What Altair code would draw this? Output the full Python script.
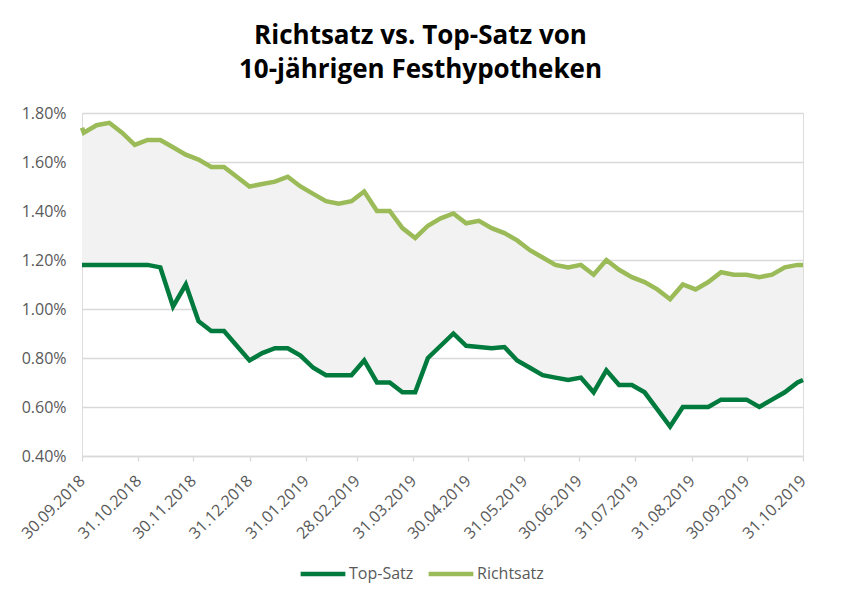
import altair as alt
import pandas as pd

# ---- data ----
dates = [
    "2018-09-30", "2018-10-01", "2018-10-08", "2018-10-15", "2018-10-22", "2018-10-29",
    "2018-11-05", "2018-11-12", "2018-11-19", "2018-11-26", "2018-12-03", "2018-12-10",
    "2018-12-17", "2018-12-24", "2018-12-31", "2019-01-07", "2019-01-14", "2019-01-21",
    "2019-01-28", "2019-02-04", "2019-02-11", "2019-02-18", "2019-02-25", "2019-03-04",
    "2019-03-11", "2019-03-18", "2019-03-25", "2019-04-01", "2019-04-08", "2019-04-15",
    "2019-04-22", "2019-04-29", "2019-05-06", "2019-05-13", "2019-05-20", "2019-05-27",
    "2019-06-03", "2019-06-10", "2019-06-17", "2019-06-24", "2019-07-01", "2019-07-08",
    "2019-07-15", "2019-07-22", "2019-07-29", "2019-08-05", "2019-08-12", "2019-08-19",
    "2019-08-26", "2019-09-02", "2019-09-09", "2019-09-16", "2019-09-23", "2019-09-30",
    "2019-10-07", "2019-10-14", "2019-10-21", "2019-10-28", "2019-10-31",
]
top_satz = [
    1.18, 1.18, 1.18, 1.18, 1.18, 1.18,
    1.18, 1.17, 1.01, 1.10, 0.95, 0.91,
    0.91, 0.85, 0.79, 0.82, 0.84, 0.84,
    0.81, 0.76, 0.73, 0.73, 0.73, 0.79,
    0.70, 0.70, 0.66, 0.66, 0.80, 0.85,
    0.90, 0.85, 0.845, 0.84, 0.845, 0.79,
    0.76, 0.73, 0.72, 0.71, 0.72, 0.66,
    0.75, 0.69, 0.69, 0.66, 0.59, 0.52,
    0.60, 0.60, 0.60, 0.63, 0.63, 0.63,
    0.60, 0.63, 0.66, 0.70, 0.71,
]
richtsatz = [
    1.74, 1.72, 1.75, 1.76, 1.72, 1.67,
    1.69, 1.69, 1.66, 1.63, 1.61, 1.58,
    1.58, 1.54, 1.50, 1.51, 1.52, 1.54,
    1.50, 1.47, 1.44, 1.43, 1.44, 1.48,
    1.40, 1.40, 1.33, 1.29, 1.34, 1.37,
    1.39, 1.35, 1.36, 1.33, 1.31, 1.28,
    1.24, 1.21, 1.18, 1.17, 1.18, 1.14,
    1.20, 1.16, 1.13, 1.11, 1.08, 1.04,
    1.10, 1.08, 1.11, 1.15, 1.14, 1.14,
    1.13, 1.14, 1.17, 1.18, 1.18,
]
series_names = ["Top-Satz", "Richtsatz"]
series_colors = ["#007A3D", "#9BBB59"]
tick_dates = [
    (2018, 9, 30), (2018, 10, 31), (2018, 11, 30), (2018, 12, 31), (2019, 1, 31),
    (2019, 2, 28), (2019, 3, 31), (2019, 4, 30), (2019, 5, 31), (2019, 6, 30),
    (2019, 7, 31), (2019, 8, 31), (2019, 9, 30), (2019, 10, 31),
]
y_ticks = [0.4, 0.6, 0.8, 1.0, 1.2, 1.4, 1.6, 1.8]
title_lines = ["Richtsatz vs. Top-Satz von", "10-jährigen Festhypotheken"]

# ---- tables ----
iso = [d + "T00:00:00" for d in dates]
wide = pd.DataFrame({"Datum": iso, "Top": top_satz, "Richt": richtsatz})
long = pd.DataFrame({
    "Datum": iso + iso,
    "Serie": [series_names[0]] * len(iso) + [series_names[1]] * len(iso),
    "Wert": top_satz + richtsatz,
})

FONT = "Open Sans"
LABEL_COLOR = "#595959"
GRID = "#D9D9D9"

x_scale = alt.Scale(domain=[alt.DateTime(year=2018, month=9, date=30),
                            alt.DateTime(year=2019, month=10, date=31)])
y_scale = alt.Scale(domain=[0.4, 1.8], nice=False, zero=False)

x_axis = alt.Axis(
    values=[alt.DateTime(year=y, month=m, date=d) for (y, m, d) in tick_dates],
    format="%d.%m.%Y", labelAngle=-45, labelAlign="right", labelBaseline="middle",
    tickSize=5, tickColor=GRID, tickWidth=1.3, domainColor=GRID, domainWidth=1.3,
    grid=False, labelPadding=17, labelFont=FONT, labelFontSize=16,
    labelColor=LABEL_COLOR, title=None, labelOverlap=False, labelFlush=False,
)
y_axis = alt.Axis(
    values=y_ticks, labelExpr="format(datum.value, '.2f') + '%'",
    domain=False, ticks=False, gridColor=GRID, gridWidth=1.3,
    labelPadding=16, labelFont=FONT, labelFontSize=16, labelColor=LABEL_COLOR,
    title=None,
)

area = alt.Chart(wide).mark_area(color="#F2F2F2").encode(
    x=alt.X("Datum:T", scale=x_scale, axis=x_axis),
    y=alt.Y("Richt:Q", scale=y_scale, axis=y_axis),
    y2="Top:Q",
)

lines = alt.Chart(long).mark_line(strokeWidth=4.5).encode(
    x=alt.X("Datum:T", scale=x_scale),
    y=alt.Y("Wert:Q", scale=y_scale),
    color=alt.Color(
        "Serie:N",
        scale=alt.Scale(domain=series_names, range=series_colors),
        sort=series_names,
        legend=alt.Legend(
            title=None, orient="none", legendX=216, legendY=436,
            direction="horizontal", symbolType="stroke", symbolSize=2000,
            symbolStrokeWidth=4.5, labelFont=FONT, labelFontSize=16,
            labelColor=LABEL_COLOR, columnPadding=5, labelOffset=1,
        ),
    ),
)

chart = alt.layer(area, lines).properties(
    width=721,
    height=343,
    autosize=alt.AutoSizeParams(type="none"),
    padding={"left": 74, "top": 105, "right": 31, "bottom": 142},
    title=alt.TitleParams(
        text=title_lines, font="Open Sans", fontSize=26, fontWeight="bold",
        color="#000000", anchor="middle", dx=-22, offset=22, lineHeight=34.5,
    ),
).configure_view(stroke=None).configure(background="#FFFFFF")

chart.save("out.html", embed_options={"renderer": "svg", "actions": False})
